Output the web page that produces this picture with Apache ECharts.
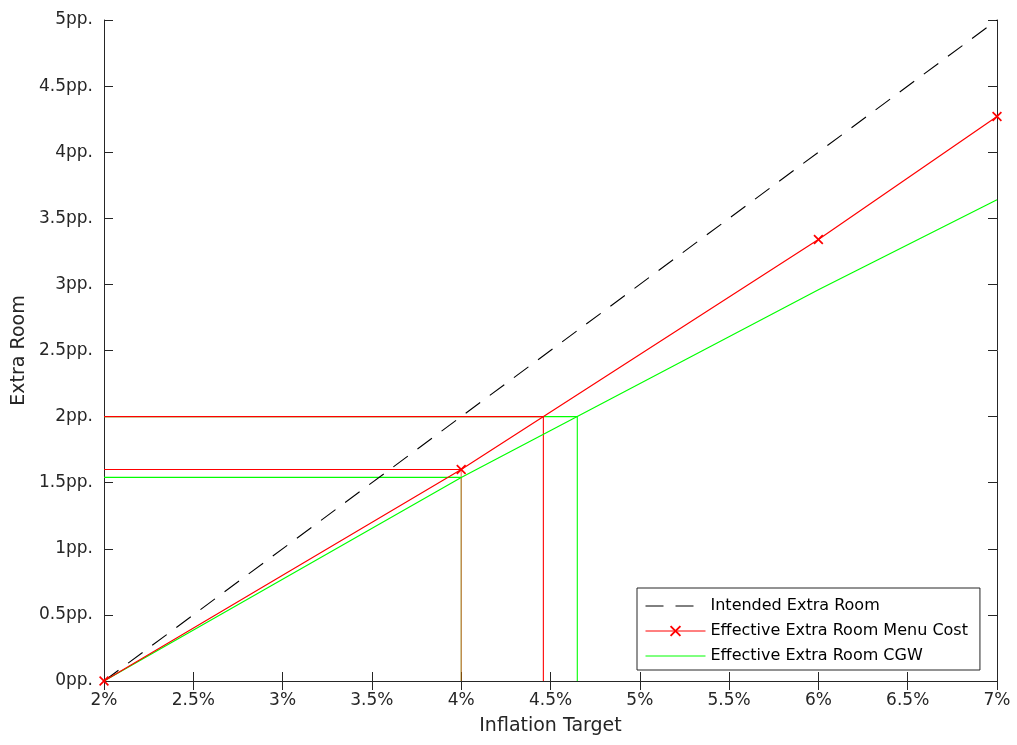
<!DOCTYPE html>
<html>
<head>
<meta charset="utf-8">
<script src="https://cdn.jsdelivr.net/npm/echarts@6/dist/echarts.min.js"></script>
<style>
  html, body { margin: 0; padding: 0; background: #fff; }
  #main { width: 1017px; height: 745px; }
</style>
</head>
<body>
<div id="main"></div>
<script>
// inflation targets (%) where the models were evaluated
var targets = [2, 4, 6, 7];
var intended = [0, 2, 4, 5];
var menuCost = [0, 1.6, 3.34, 4.27];
var cgw = [0, 1.54, 2.96, 3.64];

// guide lines: effective room at a 4% target, and target needed for 2pp
var guideTarget = 4;
var guideRoom = 2;
var menuCostAt2 = 4.46;
var cgwAt2 = 4.65;

var xTickLabels = ['2%', '2.5%', '3%', '3.5%', '4%', '4.5%', '5%', '5.5%', '6%', '6.5%', '7%'];
var yTickLabels = ['0pp.', '0.5pp.', '1pp.', '1.5pp.', '2pp.', '2.5pp.', '3pp.', '3.5pp.', '4pp.', '4.5pp.', '5pp.'];

var FONT = '"DejaVu Sans", sans-serif';
var AXIS = '#262626';
var RED = '#ff0000';
var GREEN = '#00ff00';

function pairs(xs, ys) {
  return xs.map(function (x, i) { return [x, ys[i]]; });
}

function guide(name, color, pts, opacity) {
  return {
    name: name,
    type: 'line',
    data: pts,
    symbol: 'none',
    lineStyle: { color: color, width: 1.1, opacity: opacity },
    z: 1
  };
}

var xLabel = function (v) { return xTickLabels[Math.round((v - 2) / 0.5)]; };
var yLabel = function (v) { return yTickLabels[Math.round(v / 0.5)]; };

var baseX = {
  type: 'value', min: 2, max: 7, interval: 0.5,
  axisLine: { lineStyle: { color: AXIS, width: 1 } },
  axisTick: { inside: true, length: 9, lineStyle: { color: AXIS } },
  splitLine: { show: false }
};
var baseY = {
  type: 'value', min: 0, max: 5, interval: 0.5,
  axisLine: { show: true, lineStyle: { color: AXIS, width: 1 } },
  axisTick: { show: true, inside: true, length: 9, lineStyle: { color: AXIS } },
  splitLine: { show: false }
};

var xMark = 'path://M0,1.2 L1.2,0 L5,3.8 L8.8,0 L10,1.2 L6.2,5 L10,8.8 L8.8,10 L5,6.2 L1.2,10 L0,8.8 L3.8,5 Z';
var noMarker = { opacity: 0, color: 'rgba(0,0,0,0)', borderWidth: 0 };

var chart = echarts.init(document.getElementById('main'));
var option = {
  animation: false,
  backgroundColor: '#fff',
  grid: { left: 104, right: 20, top: 20, bottom: 64 },
  xAxis: [
    Object.assign({}, baseX, {
      position: 'bottom',
      name: 'Inflation Target', nameLocation: 'middle', nameGap: 36,
      nameTextStyle: { fontFamily: FONT, fontSize: 19, color: AXIS },
      axisLabel: { formatter: xLabel, margin: 11, fontFamily: FONT, fontSize: 17, color: AXIS }
    }),
    Object.assign({}, baseX, { position: 'top', axisLabel: { show: false } })
  ],
  yAxis: [
    Object.assign({}, baseY, {
      position: 'left',
      name: 'Extra Room', nameLocation: 'middle', nameGap: 70,
      nameTextStyle: { fontFamily: FONT, fontSize: 19, color: AXIS },
      axisLabel: { formatter: yLabel, margin: 11, fontFamily: FONT, fontSize: 17, color: AXIS }
    }),
    Object.assign({}, baseY, { position: 'right', axisLabel: { show: false } })
  ],
  legend: {
    orient: 'vertical',
    left: 637, top: 588,
    padding: [10, 12, 6, 8],
    itemWidth: 60, itemHeight: 14, itemGap: 9,
    borderColor: AXIS, borderWidth: 1, borderRadius: 0,
    backgroundColor: '#fff',
    lineStyle: { width: 1 },
    textStyle: { fontFamily: FONT, fontSize: 16, color: '#000' },
    data: [
      { name: 'Intended Extra Room', itemStyle: noMarker },
      { name: 'Effective Extra Room Menu Cost' },
      { name: 'Effective Extra Room CGW', itemStyle: noMarker }
    ]
  },
  series: [
    guide('cgw guide 2pp', GREEN, [[2, guideRoom], [cgwAt2, guideRoom], [cgwAt2, 0]], 1),
    guide('menu guide 2pp', RED, [[2, guideRoom], [menuCostAt2, guideRoom], [menuCostAt2, 0]], 1),
    guide('cgw guide 4% h', GREEN, [[2, cgw[1]], [guideTarget, cgw[1]]], 1),
    guide('menu guide 4% h', RED, [[2, menuCost[1]], [guideTarget, menuCost[1]]], 1),
    guide('cgw guide 4% v', GREEN, [[guideTarget, cgw[1]], [guideTarget, 0]], 0.6),
    guide('menu guide 4% v', RED, [[guideTarget, menuCost[1]], [guideTarget, 0]], 0.6),
    {
      name: 'Intended Extra Room',
      type: 'line',
      data: pairs(targets, intended),
      symbol: 'none',
      lineStyle: { color: '#000', width: 1.1, type: [18, 12] },
      itemStyle: { color: '#000' },
      z: 3
    },
    {
      name: 'Effective Extra Room CGW',
      type: 'line',
      data: pairs(targets, cgw),
      symbol: 'none',
      lineStyle: { color: GREEN, width: 1.2 },
      itemStyle: { color: GREEN },
      z: 3
    },
    {
      name: 'Effective Extra Room Menu Cost',
      type: 'line',
      data: pairs(targets, menuCost),
      symbol: xMark,
      symbolSize: 10,
      showAllSymbol: true,
      lineStyle: { color: RED, width: 1.2 },
      itemStyle: { color: RED },
      z: 4
    }
  ]
};
option && chart.setOption(option);
</script>
</body>
</html>
